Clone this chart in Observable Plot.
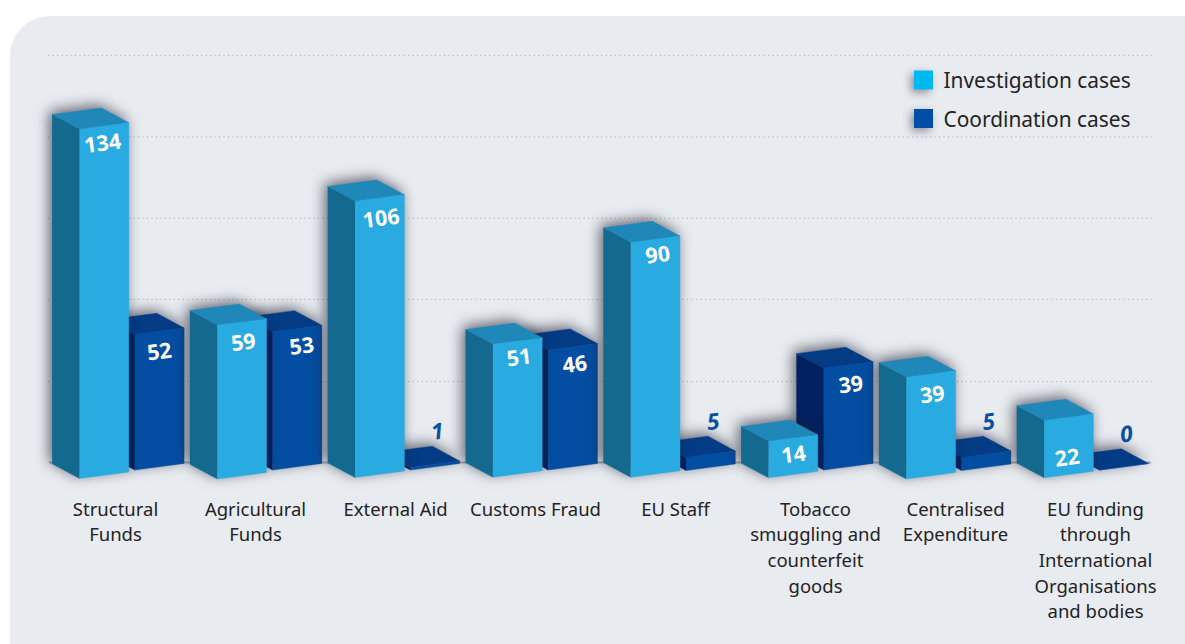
<!DOCTYPE html>
<html><head><meta charset="utf-8">
<script src="https://cdn.jsdelivr.net/npm/d3@7"></script>
<script src="https://cdn.jsdelivr.net/npm/@observablehq/plot@0.6"></script>
<style>
html,body{margin:0;padding:0;background:#fff;width:1185px;height:644px;overflow:hidden}
#panel{position:absolute;left:10px;top:16px;width:1300px;height:800px;background:#e8ebf0;border-radius:40px}
#chart{position:absolute;left:0;top:0}
</style></head><body>
<div id="panel"></div><div id="chart"></div>
<script>
const categories = ["Structural\nFunds","Agricultural\nFunds","External Aid","Customs Fraud","EU Staff","Tobacco\nsmuggling and\ncounterfeit\ngoods","Centralised\nExpenditure","EU funding\nthrough\nInternational\nOrganisations\nand bodies"];
const investigation = [134,59,106,51,90,14,39,22];
const coordination = [52,53,1,46,5,39,5,0];
const seriesNames = ["Investigation cases","Coordination cases"];
const gridValues = [37.2,68.7,99.8,131,162.3];
const baselineValue = 6.1;

// projection of the 3-D look, in pixels per scale unit
const W=1185,H=644,pxGroup=137.8,pxValue=2.607,x0=79,y0=478;
const ux=p=>p/pxGroup, uy=p=>p/pxValue;
const barW=ux(49.3), rise=uy(6.5), depthX=ux(27.4), depthY=uy(14.7);
const series=[
 {values:coordination,off:ux(55.3),base:[8.5,8.5,8.5,8.5,8,8.5,8,8.5],front:"#034ea2",top:"#033b85",side:"#012161",
  drop:[21,18,0,18,0,20,0,0],nudge:[-1.5,3,0,0.5,0,1,0,0]},
 {values:investigation,off:0,base:[0,-0.5,1,1.3,1.3,0.7,-0.5,0.7],front:"#29abe2",top:"#1f88b8",side:"#136a8e",
  drop:[18,21,21,17,16,17,21,41],nudge:[-3,0,0,0,1,-1,0,-3]}
];
function faces(xf,yb,v,s){
  const t=yb+v,r=rise,w=barW,dx=depthX,dy=depthY;
  const poly=(c,pts)=>pts.map(([x,y])=>({x,y,c}));
  return [
    ...poly(s.side,[[xf-dx,yb+dy],[xf,yb],[xf,t],[xf-dx,t+dy]]),
    ...poly(s.top,[[xf,t],[xf+w,t+r],[xf+w-dx,t+r+dy],[xf-dx,t+dy]]),
    ...poly(s.front,[[xf,yb],[xf+w,yb+r],[xf+w,t+r],[xf,t]])
  ];
}
const barMarks=[],labels=[];
categories.forEach((_,i)=>{
  for(const s of series){
    const v=s.values[i],xf=i+s.off,yb=uy(s.base[i]);
    barMarks.push(Plot.line(faces(xf,yb,v,s),{x:"x",y:"y",z:"c",fill:"c",stroke:"c",strokeWidth:0.4,
      imageFilter:"drop-shadow(-3px -3px 7px rgba(25,28,45,.65))"}));
    labels.push({x:xf+barW/2+ux(s.nudge[i]),y:yb+v+rise/2,v,drop:s.drop[i],inside:v>5});
  }
});
const insideMarks=[...d3.group(labels.filter(d=>d.inside),d=>d.drop)].map(([drop,rows])=>
  Plot.text(rows,{x:d=>d.x+ux(1.5),y:"y",text:d=>String(d.v),dy:drop,
    fill:"#fff",fontSize:21.5,fontWeight:700,fontFamily:"Open Sans",rotate:-7.5}));
const chart=Plot.plot({
  width:W,height:H,margin:0,
  style:{background:"transparent",overflow:"visible"},
  x:{axis:null,domain:[-x0/pxGroup,(W-x0)/pxGroup],range:[0,W]},
  y:{axis:null,domain:[-(H-y0)/pxValue,y0/pxValue],range:[H,0]},
  color:{type:"identity"},
  marks:[
    Plot.ruleY(gridValues,{x1:ux(48-x0),x2:ux(1152-x0),stroke:"#a3a6ab",strokeWidth:1,strokeDasharray:"1,3.5"}),
    Plot.ruleY([baselineValue],{x1:ux(49-x0),x2:ux(1151-x0),stroke:"#a6a8aa",strokeWidth:2}),
    ...barMarks,
    ...insideMarks,
    Plot.text(labels.filter(d=>!d.inside),{x:d=>d.x+ux(2.5),y:"y",text:d=>String(d.v),dy:-32,
      fill:"#0b4fa3",fontSize:22.5,fontWeight:700,fontStyle:"italic",fontFamily:"Open Sans",rotate:-7.5}),
    Plot.text(categories,{x:(d,i)=>ux(115-x0+140*i),frameAnchor:"top",dy:497,lineAnchor:"top",text:d=>d,
      fill:"#232326",fontSize:18.5,lineHeight:1.385,fontFamily:"Noto Sans"}),
    ...seriesNames.map((n,i)=>Plot.dot([n],{frameAnchor:"top-left",dx:923,dy:79.5+38.5*i,symbol:"square",r:10.7,
      fill:i?"#004ea8":"#00b9f2",stroke:"none",imageFilter:"drop-shadow(-3px 3px 4px rgba(25,28,45,.45))"})),
    ...seriesNames.map((n,i)=>Plot.text([n],{frameAnchor:"top-left",dx:943,dy:81+39*i,text:d=>d,textAnchor:"start",lineAnchor:"middle",
      fill:"#232326",fontSize:20.9,fontFamily:"Noto Sans"}))
  ]
});
document.getElementById("chart").append(chart);
</script></body></html>
